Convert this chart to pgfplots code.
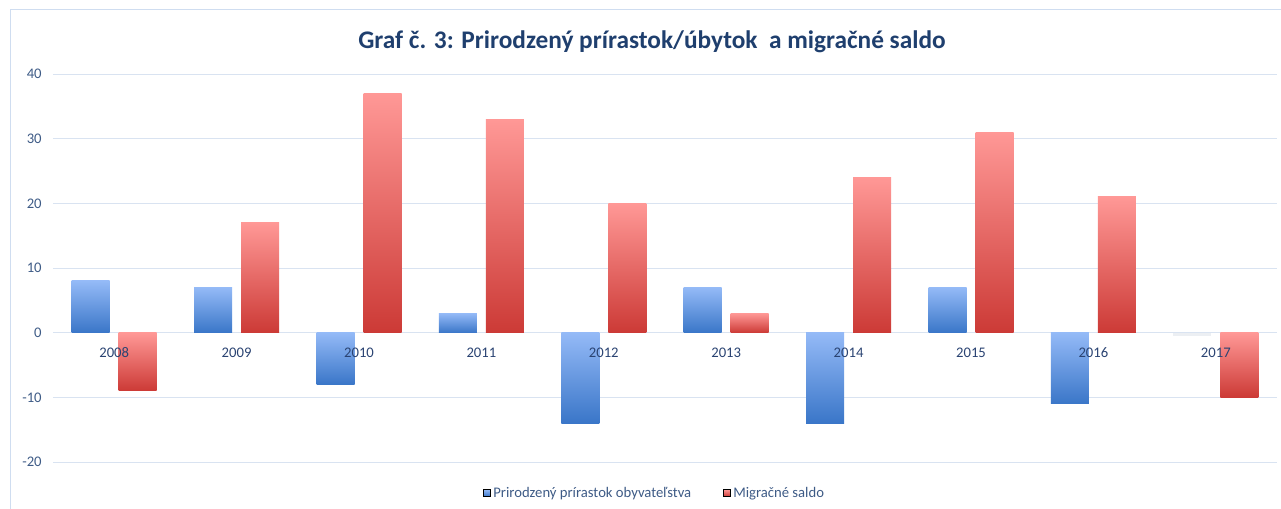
\documentclass[border=0pt]{standalone}
\usepackage{pgfplots}
\pgfplotsset{compat=1.18}
\usepackage{fontspec}
\setmainfont{Carlito}[Numbers=Lining]
\definecolor{gridc}{HTML}{D9E3F1}
\definecolor{framec}{HTML}{CFDDF0}
\definecolor{titlec}{HTML}{1F3F6E}
\definecolor{tickc}{HTML}{3E5B86}
\definecolor{yearc}{HTML}{2A4372}
\definecolor{bluetop}{HTML}{94BAF7}
\definecolor{bluebot}{HTML}{3A76C8}
\definecolor{redtop}{HTML}{FF9896}
\definecolor{redbot}{HTML}{CC3A36}
\definecolor{faint}{HTML}{ECEFF3}
\pgfplotsset{
  base/.style={
    at={(0pt,0pt)}, anchor=south west,
    scale only axis,
    width=918pt, height=291pt,
    xmin=-0.5, xmax=9.5,
    ymin=-20, ymax=40,
    ytick={-20,-10,0,10,20,30,40},
    xtick={0,...,9},
    major tick length=0pt,
    axis line style={draw=none},
    tick label style={font=\fontsize{11}{13}\selectfont},
    /pgf/number format/assume math mode=true,
  },
  bb/.style={draw=none, top color=bluetop, bottom color=bluebot, bar shift=-17.625pt, forget plot},
  rb/.style={draw=none, top color=redtop, bottom color=redbot, bar shift=17.625pt, forget plot},
}
\begin{document}
\begin{tikzpicture}
\path[use as bounding box] (-39.75pt,-34.5pt) rectangle (921pt,346.5pt);
\draw[framec, line width=0.75pt] (-31.5pt,-40pt) -- (-31.5pt,339pt) -- (930pt,339pt);
\begin{axis}[
  base,
  xticklabels={},
  ymajorgrids,
  grid style={gridc, line width=0.75pt},
  yticklabel style={tickc, xshift=-5pt},
  ybar, bar width=28.5pt,
  legend style={at={(0.4918,-0.0799)}, anchor=center, draw=none, fill=none,
    legend columns=2, font=\fontsize{11}{13}\selectfont, text=tickc,
    /tikz/every even column/.append style={column sep=22pt}},
  legend image code/.code={\fill[#1] (0pt,-2.6pt) rectangle (5.2pt,2.6pt);},
]
% Prirodzeny prirastok obyvatelstva
\addplot[bb] coordinates {(0,8)};
\addplot[bb] coordinates {(1,7)};
\addplot[bb] coordinates {(2,-8)};
\addplot[bb] coordinates {(3,3)};
\addplot[bb] coordinates {(4,-14)};
\addplot[bb] coordinates {(5,7)};
\addplot[bb] coordinates {(6,-14)};
\addplot[bb] coordinates {(7,7)};
\addplot[bb] coordinates {(8,-11)};
\addplot[draw=none, fill=faint, bar shift=-17.625pt, forget plot] coordinates {(9,-0.5)};
% Migracne saldo
\addplot[rb] coordinates {(0,-9)};
\addplot[rb] coordinates {(1,17)};
\addplot[rb] coordinates {(2,37)};
\addplot[rb] coordinates {(3,33)};
\addplot[rb] coordinates {(4,20)};
\addplot[rb] coordinates {(5,3)};
\addplot[rb] coordinates {(6,24)};
\addplot[rb] coordinates {(7,31)};
\addplot[rb] coordinates {(8,21)};
\addplot[rb] coordinates {(9,-10)};
\addlegendimage{top color=bluetop, bottom color=bluebot}
\addlegendentry{Prirodzený prírastok obyvateľstva}
\addlegendimage{top color=redtop, bottom color=redbot}
\addlegendentry{Migračné saldo}
\end{axis}
\begin{axis}[
  base,
  yticklabels={},
  xticklabels={2008,2009,2010,2011,2012,2013,2014,2015,2016,2017},
  xticklabel style={yearc, anchor=north, yshift=89.5pt, text height=1.6ex, text depth=0.2ex},
]
\end{axis}
\node[font=\fontsize{19}{22}\selectfont\bfseries, text=titlec] at (449.25pt,315pt)
  {Graf č. 3: Prirodzený prírastok/úbytok\ \ a migračné saldo};
\end{tikzpicture}
\end{document}
